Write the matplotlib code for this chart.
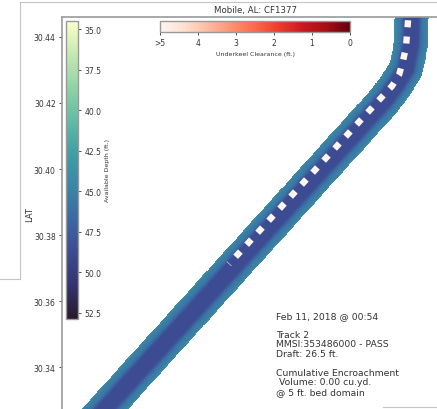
import numpy as np
import matplotlib
matplotlib.use("Agg")
import matplotlib.pyplot as plt
from matplotlib.colors import LinearSegmentedColormap, Normalize
from matplotlib.cm import ScalarMappable
from matplotlib.lines import Line2D

W, H = 437, 410

# channel centerline (lon, lat)
chan_lon = [-87.95394, -87.95424, -87.95576, -87.95879, -87.96242, -88.04697, -88.05303]
chan_lat = [30.45303, 30.43788, 30.43030, 30.42545, 30.42061, 30.32727, 30.32061]

# cross section: offset from centerline (deg) -> available depth (ft.)
xs_offset = [0.0, 0.0020, 0.0027, 0.0034, 0.0045, 0.0051]
xs_depth = [48.8, 48.5, 46.8, 45.6, 45.0, 43.8]

# vessel track
track_lon = [-87.95485, -87.95515, -87.95576, -87.95667, -87.95788, -87.96000, -87.96364, -88.00939]
track_lat = [30.45000, 30.44485, 30.43697, 30.43273, 30.42848, 30.42515, 30.42121, 30.37121]

depth_ticks = [35.0, 37.5, 40.0, 42.5, 45.0, 47.5, 50.0, 52.5]
ukc_ticks = [5, 4, 3, 2, 1, 0]
ukc_labels = ['>5', '4', '3', '2', '1', '0']

info_lines = ["Feb 11, 2018 @ 00:54", "", "Track 2", "MMSI:353486000 - PASS",
              "Draft: 26.5 ft.", "", "Cumulative Encroachment",
              " Volume: 0.00 cu.yd.", "@ 5 ft. bed domain"]

# cmocean "deep"-like ramp
deep = LinearSegmentedColormap.from_list("deep", [
    "#fdfecc", "#c5e9b0", "#8fd3a5", "#62bba4", "#3f9fa6",
    "#3a86a6", "#3b68a2", "#3d4a92", "#343370", "#281a2c"])

txt = '#333333'
edge = '#9a9a9a'

fig = plt.figure(figsize=(W / 100, H / 100), dpi=100)
fig.patch.set_facecolor('white')

ax = fig.add_axes([62 / W, (H - 430) / H, 400 / W, 412 / H])
xlim = (-88.06, -88.06 + 400 / 3300)
ylim = (30.44 - 392 / 3300, 30.44 + 20 / 3300)
ax.set_xlim(xlim)
ax.set_ylim(ylim)

# depth field from distance to the channel centerline
gx, gy = np.meshgrid(np.linspace(*xlim, 500), np.linspace(*ylim, 520))
cx, cy = np.array(chan_lon), np.array(chan_lat)
dist = np.full(gx.shape, np.inf)
for i in range(len(cx) - 1):
    ax0, ay0, bx, by = cx[i], cy[i], cx[i + 1], cy[i + 1]
    dx, dy = bx - ax0, by - ay0
    t = np.clip(((gx - ax0) * dx + (gy - ay0) * dy) / (dx * dx + dy * dy), 0, 1)
    d = np.hypot(gx - (ax0 + t * dx), gy - (ay0 + t * dy))
    dist = np.minimum(dist, d)
depth = np.interp(dist, xs_offset, xs_depth, right=np.nan)

norm = Normalize(34.5, 52.9)
ax.contourf(gx, gy, depth, levels=np.linspace(34.5, 52.9, 47), cmap=deep, norm=norm)

ax.plot(track_lon, track_lat, color='#fdf6f0', lw=4.6, dashes=(1.1, 1.45),
        solid_capstyle='butt', dash_capstyle='butt')

for s in ax.spines.values():
    s.set_color(edge)
    s.set_linewidth(1.2)
ax.set_yticks([30.34, 30.36, 30.38, 30.40, 30.42, 30.44])
ax.set_yticklabels(['30.34', '30.36', '30.38', '30.40', '30.42', '30.44'])
ax.tick_params(axis='y', labelsize=5.5, labelcolor=txt, color=txt, length=2.5, width=0.6, pad=2)
ax.set_xticks([])

# depth colorbar (vertical, inverted)
cax = fig.add_axes([66 / W, (H - 320) / H, 12 / W, 298 / H])
cb = fig.colorbar(ScalarMappable(norm=norm, cmap=deep), cax=cax)
cax.invert_yaxis()
cb.set_ticks(depth_ticks)
cb.ax.tick_params(labelsize=5.5, labelcolor=txt, color=txt, length=2.5, width=0.6, pad=2)
cb.outline.set_edgecolor(edge)
cb.outline.set_linewidth(1.0)
cb.set_label('Available Depth (ft.)', fontsize=4.5, color=txt, labelpad=3)

# underkeel clearance colorbar (horizontal, inverted)
uax = fig.add_axes([160 / W, (H - 33) / H, 190 / W, 11 / H])
ub = fig.colorbar(ScalarMappable(norm=Normalize(0, 5), cmap='Reds_r'), cax=uax, orientation='horizontal')
uax.invert_xaxis()
ub.set_ticks(ukc_ticks)
ub.set_ticklabels(ukc_labels)
ub.ax.tick_params(labelsize=5.5, labelcolor=txt, color=txt, length=2.5, width=0.6, pad=2)
ub.outline.set_edgecolor(edge)
ub.outline.set_linewidth(1.0)
ub.set_label('Underkeel Clearance (ft.)', fontsize=4.5, color=txt, labelpad=3)

fig.text(255 / W, 1 - 10 / H, 'Mobile, AL: CF1377', fontsize=6.2, color=txt, ha='center', va='center')
fig.text(30 / W, 1 - 215 / H, 'LAT', fontsize=6, color=txt, rotation=90, ha='center', va='center')
fig.text(276 / W, 1 - 312 / H, "\n".join(info_lines), fontsize=6.7, color=txt,
         ha='left', va='top', linespacing=1.07)

# screenshot frame lines
fc = '#c4c4c4'
for xs, ys in [([20, W], [3, 3]), ([20, 20], [3, 280]), ([0, 20], [280, 280]), ([383, W], [408, 408])]:
    fig.add_artist(Line2D([x / W for x in xs], [1 - y / H for y in ys],
                          transform=fig.transFigure, color=fc, lw=0.8))

fig.savefig('out.png', dpi=100)
